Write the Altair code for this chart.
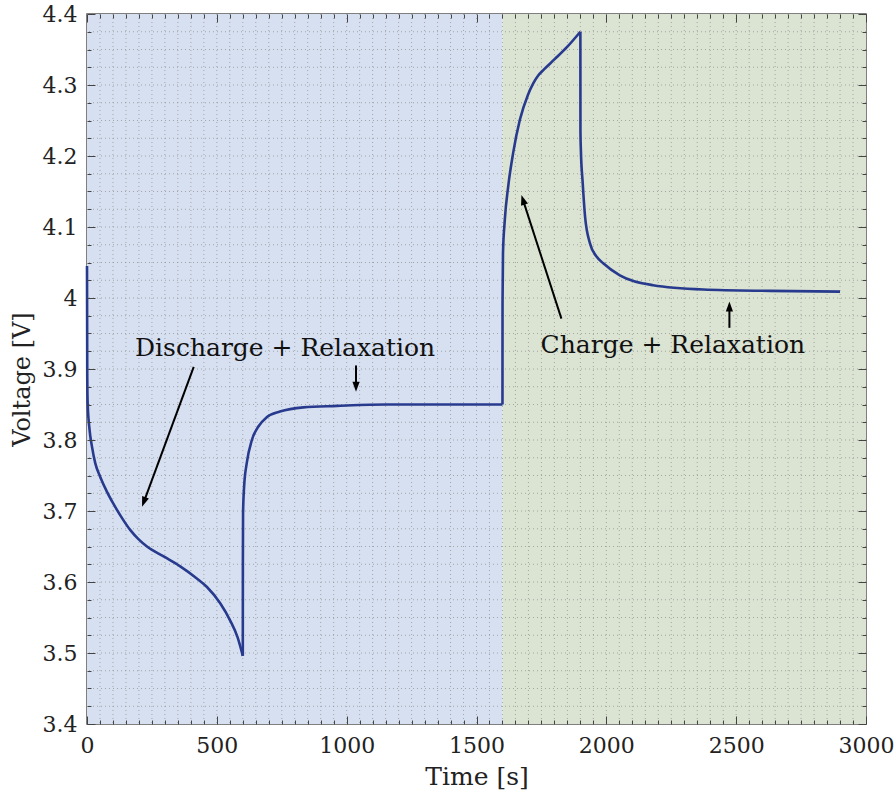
import math

import altair as alt
import pandas as pd

FONT = "DejaVu Serif"
W, H = 779, 710
X_DOMAIN = [0, 3000]
Y_DOMAIN = [3.4, 4.4]

# Discharge, 0-600 s
DIS_T = [0, 1, 2.5, 10, 19, 32, 51, 77, 102, 135, 167, 199, 231, 295, 359, 423, 462, 513, 551, 580, 600]
DIS_V = [4.045, 3.889, 3.852, 3.814, 3.791, 3.767, 3.748, 3.727, 3.710, 3.690, 3.673, 3.660,
         3.650, 3.636, 3.622, 3.605, 3.593, 3.570, 3.546, 3.522, 3.496]
# Relaxation after discharge, 600-1600 s
REL1_T = [600, 600.3, 601, 605, 615, 635, 660, 692, 743, 833, 962, 1154, 1600]
REL1_V = [3.496, 3.626, 3.697, 3.734, 3.767, 3.800, 3.819, 3.832, 3.840, 3.846, 3.848, 3.850, 3.850]
# Charge, 1600-1900 s
CHG_T = [1600, 1600.3, 1602, 1609, 1622, 1641, 1667, 1698, 1718, 1737, 1760, 1800, 1850, 1900]
CHG_V = [3.850, 3.993, 4.063, 4.110, 4.157, 4.204, 4.251, 4.286, 4.302, 4.313, 4.322, 4.336,
         4.354, 4.375]
# Relaxation after charge, 1900-2900 s
REL2_T = [1900, 1900.3, 1902, 1909, 1918, 1937, 1963, 1988, 2052, 2180, 2373, 2630, 2900]
REL2_V = [4.375, 4.235, 4.208, 4.162, 4.115, 4.077, 4.058, 4.049, 4.032, 4.018, 4.012, 4.010, 4.009]

# Shaded phases
PHASE_START = [0, 1600]
PHASE_END = [1600, 3000]
PHASE_COLOR = ["#d7e0f1", "#dbe3d2"]

# Annotation arrows (tail -> tip)
ARROW_TAIL_T = [411, 1036, 1827, 2474]
ARROW_TAIL_V = [3.903, 3.905, 3.971, 3.958]
ARROW_TIP_T = [212, 1036, 1673, 2474]
ARROW_TIP_V = [3.706, 3.868, 4.145, 3.995]

LABEL_TEXT = ["Discharge + Relaxation", "Charge + Relaxation"]
LABEL_T = [763, 2256]
LABEL_V = [3.919, 3.922]

# Tick positions: majors every 500 s / 0.1 V, minors every 50 s / 0.025 V
X_TICKS = list(range(0, 3001, 50))
Y_TICKS = [round(3.4 + 0.025 * k, 3) for k in range(41)]

# ---------------------------------------------------------------- tables
segments = [(DIS_T, DIS_V), (REL1_T, REL1_V), (CHG_T, CHG_V), (REL2_T, REL2_V)]
curve_rows = []
for s, (ts, vs) in enumerate(segments):
    for i, (t, v) in enumerate(zip(ts, vs)):
        curve_rows.append({"seg": s, "i": i, "t": t, "v": v})
curve_df = pd.DataFrame(curve_rows)

phase_df = pd.DataFrame({"start": PHASE_START, "end": PHASE_END, "color": PHASE_COLOR})

kx = W / (X_DOMAIN[1] - X_DOMAIN[0])
ky = H / (Y_DOMAIN[1] - Y_DOMAIN[0])
HEAD = 10  # arrowhead length in px
rows = []
for t0, v0, t1, v1 in zip(ARROW_TAIL_T, ARROW_TAIL_V, ARROW_TIP_T, ARROW_TIP_V):
    dx = (t1 - t0) * kx
    dy = -(v1 - v0) * ky
    L = math.hypot(dx, dy)
    ux, uy = dx / L, dy / L
    rows.append({
        "t0": t0, "v0": v0, "t1": t1, "v1": v1,
        "tb": t1 - ux * (HEAD - 1) / kx,
        "vb": v1 + uy * (HEAD - 1) / ky,
        "ang": math.degrees(math.atan2(dx, -dy)) % 360,
    })
arrow_df = pd.DataFrame(rows)

label_df = pd.DataFrame({"txt": LABEL_TEXT, "t": LABEL_T, "v": LABEL_V})
xgrid_df = pd.DataFrame({"t": X_TICKS[1:-1]})
ygrid_df = pd.DataFrame({"v": Y_TICKS[1:-1]})

# ---------------------------------------------------------------- axes
xs = alt.Scale(domain=X_DOMAIN, nice=False, zero=False)
ys = alt.Scale(domain=Y_DOMAIN, nice=False, zero=False)

x_major = "datum.value % 500 === 0"
y_major = "abs(datum.value * 10 - round(datum.value * 10)) < 0.001"
x_tick = {"expr": f"{x_major} ? -8 : -4"}
y_tick = {"expr": f"{y_major} ? -8 : -4"}

common = dict(tickColor="#444", tickWidth=1, domain=False, grid=False, zindex=1,
              labelOverlap=False, labelFlush=False)
text_style = dict(labelFont=FONT, labelFontSize=22, labelColor="#222",
                  titleFont=FONT, titleFontWeight="normal", titleColor="#222")

ax_bottom = alt.Axis(orient="bottom", values=X_TICKS, tickSize=x_tick,
                     labelExpr=f"{x_major} ? '' + datum.value : ''", labelPadding=19,
                     title="Time [s]", titleFontSize=25, titleBaseline="alphabetic", titleY=60,
                     **text_style, **common)
ax_top = alt.Axis(orient="top", values=X_TICKS, tickSize=x_tick, labels=False, title=None, **common)
ax_left = alt.Axis(orient="left", values=Y_TICKS, tickSize=y_tick,
                   labelExpr=f"{y_major} ? '' + round(datum.value * 10) / 10 : ''", labelPadding=18,
                   title="Voltage [V]", titleFontSize=24, titleBaseline="alphabetic",
                   titleX=-58, titleY=365, titleAngle=270, titleAlign="center",
                   **text_style, **common)
ax_right = alt.Axis(orient="right", values=Y_TICKS, tickSize=y_tick, labels=False, title=None, **common)

# ---------------------------------------------------------------- layers
bg = alt.Chart(phase_df).mark_rect().encode(
    x=alt.X("start:Q", scale=xs, axis=ax_bottom),
    x2="end:Q",
    color=alt.Color("color:N", scale=None),
)

grid_style = dict(color="#8c8c8c", strokeDash=[1, 3], strokeWidth=1, opacity=0.7)
xgrid = alt.Chart(xgrid_df).mark_rule(**grid_style).encode(
    x=alt.X("t:Q", scale=xs, axis=ax_top)
)
ygrid = alt.Chart(ygrid_df).mark_rule(**grid_style).encode(
    y=alt.Y("v:Q", scale=ys, axis=ax_right)
)

curve = alt.Chart(curve_df).mark_line(
    color="#283a8e", strokeWidth=2.6, interpolate="monotone", strokeJoin="round"
).encode(
    x=alt.X("t:Q", scale=xs, axis=None),
    y=alt.Y("v:Q", scale=ys, axis=ax_left),
    detail="seg:N",
    order="i:Q",
)

shafts = alt.Chart(arrow_df).mark_rule(color="black", strokeWidth=2).encode(
    x=alt.X("t0:Q", scale=xs, axis=None),
    y=alt.Y("v0:Q", scale=ys, axis=None),
    x2="tb:Q",
    y2="vb:Q",
)

heads = alt.Chart(arrow_df).mark_point(
    shape="M0,0L0.36,1L-0.36,1Z", filled=True, size=4 * HEAD * HEAD,
    color="black", opacity=1, strokeWidth=0,
).encode(
    x=alt.X("t1:Q", scale=xs, axis=None),
    y=alt.Y("v1:Q", scale=ys, axis=None),
    angle=alt.Angle("ang:Q", scale=None),
)

labels = alt.Chart(label_df).mark_text(
    font=FONT, fontSize=25, color="#111", align="center", baseline="alphabetic"
).encode(
    x=alt.X("t:Q", scale=xs, axis=None),
    y=alt.Y("v:Q", scale=ys, axis=None),
    text="txt:N",
)

chart = (
    alt.layer(bg, xgrid, ygrid, curve, shafts, heads, labels)
    .resolve_axis(x="independent", y="independent")
    .properties(
        width=W,
        height=H,
        padding={"left": 87, "top": 14, "right": 896 - 87 - W, "bottom": 794 - 14 - H},
        autosize=alt.AutoSizeParams(type="none"),
        background="white",
    )
    .configure_view(stroke="#555", strokeWidth=1.5)
)

chart.save("out.html", embed_options={"renderer": "svg", "actions": False})
